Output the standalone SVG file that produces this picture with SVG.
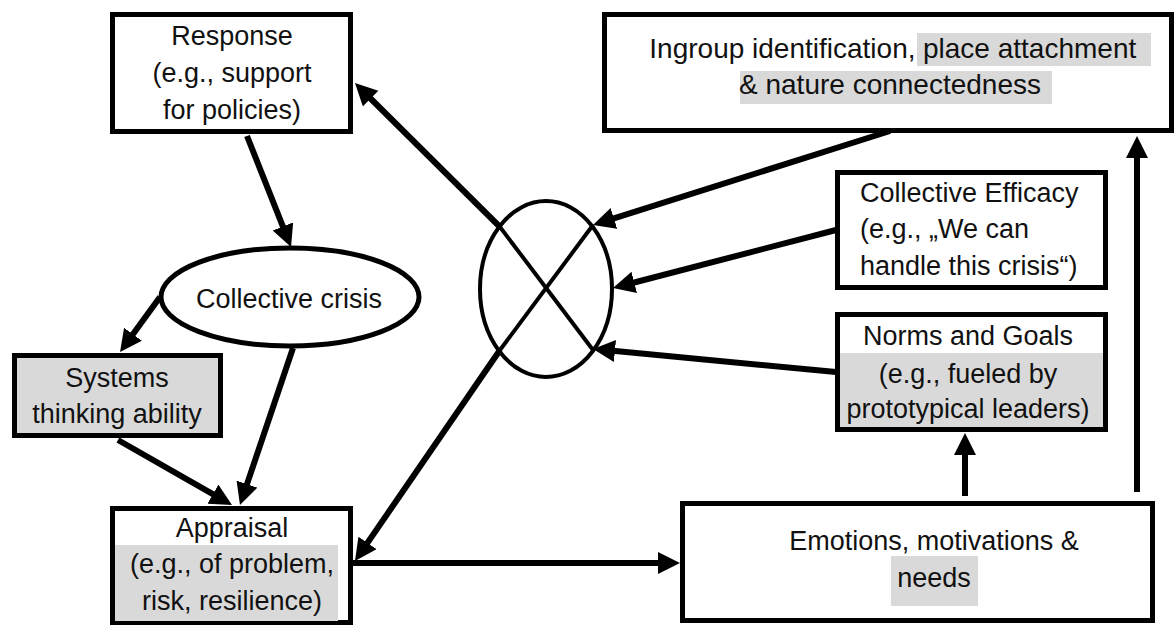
<svg xmlns="http://www.w3.org/2000/svg" width="1174" height="626" viewBox="0 0 1174 626">
<style>
text{font-family:"Liberation Sans",Arial,sans-serif;font-size:27px;fill:#111;}
.big{font-size:28px;}
.box{fill:#fff;stroke:#000;stroke-width:5;}
.grey{fill:#d9d9d9;stroke:none;}
.c{text-anchor:middle;}
.conn{stroke:#000;stroke-width:6;fill:none;marker-end:url(#ah);}
.thin{stroke:#000;stroke-width:4;fill:none;}
</style>
<defs>
<marker id="ah" markerUnits="userSpaceOnUse" markerWidth="24" markerHeight="24" refX="10" refY="11" orient="auto">
<path d="M0,0 L22,11 L0,22 z" fill="#000"/>
</marker>
</defs>
<rect width="1174" height="626" fill="#fff"/>

<g id="response">
<rect class="box" x="112.5" y="14.5" width="238" height="117"/>
<text class="c" x="232" y="45">Response</text>
<text class="c" x="232" y="82">(e.g., support</text>
<text class="c" x="232" y="119">for policies)</text>
</g>

<g id="ingroup">
<rect class="box" x="604.5" y="14.5" width="567" height="116"/>
<rect class="grey" x="917" y="33" width="234" height="33"/>
<rect class="grey" x="740" y="71" width="312" height="33"/>
<text class="big" x="915.5" y="58" text-anchor="end">Ingroup identification,</text>
<text class="big" x="923" y="58">place attachment</text>
<text class="big c" x="890" y="94">&amp; nature connectedness</text>
</g>

<g id="collective-crisis">
<ellipse cx="290" cy="297" rx="129" ry="49" fill="#fff" stroke="#000" stroke-width="5"/>
<text class="c" x="289" y="308">Collective crisis</text>
</g>

<g id="systems-thinking">
<rect x="14.5" y="355.5" width="206" height="80" fill="#d9d9d9" stroke="#000" stroke-width="5"/>
<text class="c" x="117" y="387">Systems</text>
<text class="c" x="117" y="423">thinking ability</text>
</g>

<g id="appraisal">
<rect class="box" x="112.5" y="508.5" width="238" height="114"/>
<rect class="grey" x="115" y="545" width="223" height="76"/>
<text class="c" x="232" y="537">Appraisal</text>
<text class="c" x="232" y="573">(e.g., of problem,</text>
<text class="c" x="232" y="610">risk, resilience)</text>
</g>

<g id="collective-efficacy">
<rect class="box" x="837.5" y="172.5" width="268" height="115"/>
<text x="860" y="202">Collective Efficacy</text>
<text x="860" y="238">(e.g., „We can</text>
<text x="860" y="275">handle this crisis“)</text>
</g>

<g id="norms-goals">
<rect class="box" x="837.5" y="314.5" width="268" height="115"/>
<rect class="grey" x="840" y="353" width="263" height="74"/>
<text class="c" x="968" y="345">Norms and Goals</text>
<text class="c" x="968" y="383">(e.g., fueled by</text>
<text class="c" x="968" y="418">prototypical leaders)</text>
</g>

<g id="emotions">
<rect class="box" x="682.5" y="503.5" width="470" height="117"/>
<rect class="grey" x="891" y="556" width="87" height="50"/>
<text class="c" x="934" y="550">Emotions, motivations &amp;</text>
<text class="c" x="934" y="587">needs</text>
</g>

<g id="interaction">
<ellipse cx="546" cy="289" rx="66" ry="88" fill="none" stroke="#000" stroke-width="4"/>
<line class="thin" x1="500" y1="227" x2="593" y2="350"/>
<line class="thin" x1="500" y1="350" x2="593" y2="225"/>
</g>

<g id="connectors">
<line class="conn" x1="247" y1="136" x2="286.6" y2="235.8"/>
<line class="conn" x1="160" y1="297" x2="127.1" y2="342.3"/>
<line class="conn" x1="118" y1="440" x2="221.6" y2="499.1"/>
<line class="conn" x1="293" y1="348" x2="243.8" y2="493.6"/>
<line class="conn" x1="353" y1="563" x2="668" y2="563"/>
<line class="conn" x1="965" y1="496" x2="965" y2="445"/>
<line class="conn" x1="1137" y1="492" x2="1137" y2="148"/>
<line class="conn" x1="890" y1="131" x2="604.4" y2="221.4"/>
<line class="conn" x1="836" y1="230" x2="624.6" y2="285"/>
<line class="conn" x1="836" y1="372" x2="605" y2="350.1"/>
<line class="conn" x1="500" y1="227" x2="363.5" y2="91.5"/>
<line class="conn" x1="500" y1="350" x2="361.8" y2="551.1"/>
</g>
</svg>
